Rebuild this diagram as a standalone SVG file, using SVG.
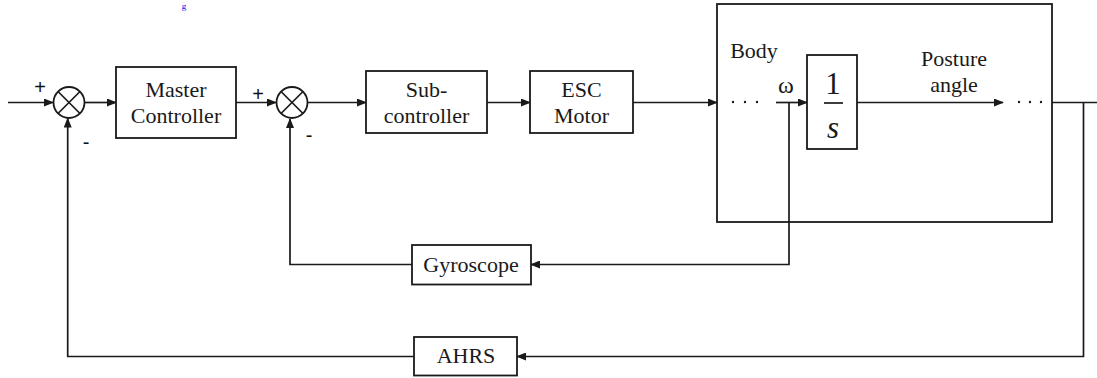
<svg xmlns="http://www.w3.org/2000/svg" width="1097" height="378" viewBox="0 0 1097 378">
<style>
.b{fill:#fff;stroke:#1a1a1a;stroke-width:1.8}
.o{fill:none;stroke:#1a1a1a;stroke-width:1.8}
.l{fill:none;stroke:#1a1a1a;stroke-width:1.7}
.t{font-family:"Liberation Serif","Times New Roman",serif;font-size:22px;fill:#1a1a1a;text-anchor:middle}
.s{font-family:"Liberation Sans",Arial,sans-serif;font-size:20px;fill:#111;text-anchor:middle}
</style>
<defs>
<marker id="a" markerWidth="10" markerHeight="8" refX="9" refY="4" orient="auto" markerUnits="userSpaceOnUse">
<path d="M0,0 L10,4 L0,8 Z" fill="#1a1a1a"/>
</marker>
</defs>
<rect width="1097" height="378" fill="#fff"/>
<text x="184" y="9" font-family="Liberation Serif,serif" font-size="9" fill="#0000ee" text-anchor="middle">g</text>

<g id="body">
<rect class="o" x="717" y="4" width="335" height="218"/>
<text class="t" x="754" y="58">Body</text>
<circle cx="733" cy="102" r="1.2" fill="#1a1a1a"/>
<circle cx="745" cy="102" r="1.2" fill="#1a1a1a"/>
<circle cx="757" cy="102" r="1.2" fill="#1a1a1a"/>
<text x="786" y="93" font-family="Liberation Serif,serif" font-size="24" fill="#1a1a1a" text-anchor="middle">ω</text>
<text class="t" x="954" y="65.5">Posture</text>
<text class="t" x="954" y="91.5">angle</text>
<circle cx="1019" cy="102" r="1.2" fill="#1a1a1a"/>
<circle cx="1030" cy="102" r="1.2" fill="#1a1a1a"/>
<circle cx="1041" cy="102" r="1.2" fill="#1a1a1a"/>
</g>

<g id="connectors">
<line class="l" x1="8" y1="102.5" x2="53" y2="102.5" marker-end="url(#a)"/>
<line class="l" x1="85" y1="102.5" x2="116" y2="102.5" marker-end="url(#a)"/>
<line class="l" x1="236" y1="102.5" x2="276" y2="102.5" marker-end="url(#a)"/>
<line class="l" x1="308" y1="102.5" x2="366" y2="102.5" marker-end="url(#a)"/>
<line class="l" x1="487" y1="102.5" x2="530" y2="102.5" marker-end="url(#a)"/>
<line class="l" x1="633" y1="102.5" x2="717" y2="102.5" marker-end="url(#a)"/>
<line class="l" x1="776" y1="102.5" x2="807" y2="102.5" marker-end="url(#a)"/>
<line class="l" x1="857" y1="102.5" x2="1003" y2="102.5" marker-end="url(#a)"/>
<line class="l" x1="1052" y1="102.5" x2="1097" y2="102.5"/>
<polyline class="l" points="789,102.5 789,264.5 531,264.5" marker-end="url(#a)"/>
<polyline class="l" points="412,264.5 290,264.5 290,119" marker-end="url(#a)"/>
<polyline class="l" points="1083.5,102.5 1083.5,356.5 517,356.5" marker-end="url(#a)"/>
<polyline class="l" points="414,356.5 67.7,356.5 67.7,118.5" marker-end="url(#a)"/>
</g>

<g id="sum1">
<circle class="b" cx="69" cy="102.5" r="15.5"/>
<path class="l" d="M58,91.5 L80,113.5 M80,91.5 L58,113.5"/>
<text class="s" x="40" y="94">+</text>
<text class="s" x="86" y="149">-</text>
</g>

<g id="sum2">
<circle class="b" cx="292" cy="102.5" r="15.5"/>
<path class="l" d="M281,91.5 L303,113.5 M303,91.5 L281,113.5"/>
<text class="s" x="258" y="101">+</text>
<text class="s" x="309" y="142">-</text>
</g>

<g id="master">
<rect class="b" x="116" y="67" width="120" height="71"/>
<text class="t" x="176" y="96.5">Master</text>
<text class="t" x="176" y="122.5">Controller</text>
</g>

<g id="sub">
<rect class="b" x="366" y="71" width="121" height="62"/>
<text class="t" x="426.5" y="96.5">Sub-</text>
<text class="t" x="426.5" y="122.5">controller</text>
</g>

<g id="esc">
<rect class="b" x="530" y="71" width="103" height="62"/>
<text class="t" x="581.5" y="96.5">ESC</text>
<text class="t" x="581.5" y="122.5">Motor</text>
</g>

<g id="integrator">
<rect class="b" x="807" y="55" width="50" height="94"/>
<text x="833" y="94" font-family="Liberation Serif,serif" font-size="31" fill="#1a1a1a" text-anchor="middle">1</text>
<line class="l" x1="824" y1="103" x2="843" y2="103"/>
<text x="833" y="138" font-family="Liberation Serif,serif" font-style="italic" font-size="31" fill="#1a1a1a" text-anchor="middle">s</text>
</g>

<g id="gyroscope">
<rect class="b" x="412" y="245" width="119" height="39.5"/>
<text class="t" x="471" y="272">Gyroscope</text>
</g>

<g id="ahrs">
<rect class="b" x="414" y="337" width="103" height="38.5"/>
<text class="t" x="466" y="363">AHRS</text>
</g>
</svg>
